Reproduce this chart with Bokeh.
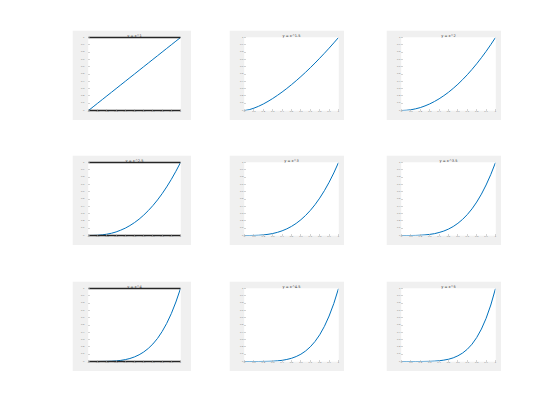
from bokeh.plotting import figure
from bokeh.layouts import row, column, Spacer
from bokeh.models import Range1d, FixedTicker, LinearAxis
from bokeh.embed import file_html
from bokeh.resources import INLINE

x_vals = [0, 0.05, 0.1, 0.15, 0.2, 0.25, 0.3, 0.35, 0.4, 0.45, 0.5,
          0.55, 0.6, 0.65, 0.7, 0.75, 0.8, 0.85, 0.9, 0.95, 1.0]

titles = ["y = x^1", "y = x^1.5", "y = x^2",
          "y = x^2.5", "y = x^3", "y = x^3.5",
          "y = x^4", "y = x^4.5", "y = x^5"]

y_p1 = [0, 0.05, 0.1, 0.15, 0.2, 0.25, 0.3, 0.35, 0.4, 0.45, 0.5,
        0.55, 0.6, 0.65, 0.7, 0.75, 0.8, 0.85, 0.9, 0.95, 1.0]
y_p15 = [0, 0.011, 0.032, 0.058, 0.089, 0.125, 0.164, 0.207, 0.253, 0.302, 0.354,
         0.408, 0.465, 0.524, 0.586, 0.650, 0.716, 0.784, 0.854, 0.926, 1.0]
y_p2 = [0, 0.003, 0.010, 0.023, 0.040, 0.063, 0.090, 0.123, 0.160, 0.203, 0.250,
        0.303, 0.360, 0.423, 0.490, 0.563, 0.640, 0.723, 0.810, 0.903, 1.0]
y_p25 = [0, 0.001, 0.003, 0.009, 0.018, 0.031, 0.049, 0.073, 0.101, 0.136, 0.177,
         0.224, 0.279, 0.341, 0.410, 0.487, 0.572, 0.666, 0.768, 0.880, 1.0]
y_p3 = [0, 0.000, 0.001, 0.003, 0.008, 0.016, 0.027, 0.043, 0.064, 0.091, 0.125,
        0.166, 0.216, 0.275, 0.343, 0.422, 0.512, 0.614, 0.729, 0.857, 1.0]
y_p35 = [0, 0.000, 0.000, 0.001, 0.004, 0.008, 0.015, 0.025, 0.041, 0.061, 0.088,
         0.123, 0.167, 0.221, 0.287, 0.365, 0.458, 0.566, 0.692, 0.836, 1.0]
y_p4 = [0, 0.000, 0.000, 0.001, 0.002, 0.004, 0.008, 0.015, 0.026, 0.041, 0.063,
        0.092, 0.130, 0.179, 0.240, 0.316, 0.410, 0.522, 0.656, 0.815, 1.0]
y_p45 = [0, 0.000, 0.000, 0.000, 0.001, 0.002, 0.004, 0.009, 0.016, 0.028, 0.044,
         0.068, 0.100, 0.144, 0.201, 0.274, 0.366, 0.481, 0.623, 0.794, 1.0]
y_p5 = [0, 0.000, 0.000, 0.000, 0.000, 0.001, 0.002, 0.005, 0.010, 0.019, 0.031,
        0.050, 0.078, 0.116, 0.168, 0.237, 0.328, 0.444, 0.591, 0.774, 1.0]

series = [y_p1, y_p15, y_p2, y_p25, y_p3, y_p35, y_p4, y_p45, y_p5]
tick_vals = [0, 0.1, 0.2, 0.3, 0.4, 0.5, 0.6, 0.7, 0.8, 0.9, 1.0]

BG = "#f0f0f0"
BLUE = "#0072bd"


def make_panel(i):
    first_col = (i % 3 == 0)
    w = 119 if first_col else 115
    p = figure(width=w, height=90, output_backend="svg", toolbar_location=None,
               x_range=Range1d(0, 1), y_range=Range1d(0, 1),
               min_border_left=16 if first_col else 15,
               min_border_right=11 if first_col else 6,
               min_border_top=7, min_border_bottom=10)
    p.border_fill_color = BG
    p.background_fill_color = "white"
    p.outline_line_color = None
    p.grid.visible = False
    p.title.text = titles[i]
    p.title.text_font_size = "3.5px"
    p.title.text_font = "DejaVu Sans"
    p.title.text_font_style = "normal"
    p.title.text_color = "#333333"
    p.title.align = "center"
    p.title.offset = 0
    p.title.standoff = 0
    for ax in (p.xaxis[0], p.yaxis[0]):
        ax.ticker = FixedTicker(ticks=tick_vals)
        ax.major_label_text_font_size = "2.5px"
        ax.major_label_text_color = "#777777"
        ax.major_label_standoff = 1
        ax.major_tick_in = 1
        ax.major_tick_out = 0
        ax.major_tick_line_color = "#aaaaaa"
        ax.minor_tick_line_color = None
    p.yaxis[0].axis_line_color = None
    if first_col:
        p.xaxis[0].axis_line_color = "#262626"
        p.xaxis[0].axis_line_width = 1.3
        top = LinearAxis(ticker=FixedTicker(ticks=[]), major_label_text_font_size="0px",
                         axis_line_color="#262626", axis_line_width=1.3,
                         major_tick_line_color=None, minor_tick_line_color=None)
        p.add_layout(top, "above")
        p.yaxis[0].major_label_standoff = 4
    else:
        p.xaxis[0].axis_line_color = None
    p.line(x_vals, series[i], line_color=BLUE, line_width=1)
    return p


panels = [make_panel(i) for i in range(9)]


def make_row(r):
    return row(Spacer(width=72, height=90), panels[3 * r],
               Spacer(width=38, height=90), panels[3 * r + 1],
               Spacer(width=42, height=90), panels[3 * r + 2])


layout = column(Spacer(width=10, height=30), make_row(0),
                Spacer(width=10, height=35), make_row(1),
                Spacer(width=10, height=36), make_row(2))

open("out.html", "w").write(file_html(layout, INLINE))
